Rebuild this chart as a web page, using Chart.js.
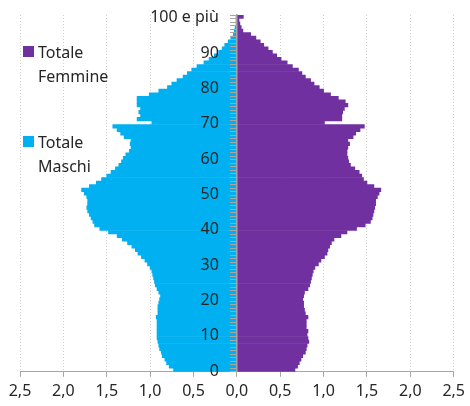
<!DOCTYPE html>
<html>
<head>
<meta charset="utf-8">
<script src="https://cdn.jsdelivr.net/npm/chart.js@4.4.0/dist/chart.umd.min.js"></script>
<style>
  body { margin: 0; background: #fff; }
  #wrap { position: relative; width: 470px; height: 406px; }
  .leg { position: absolute; left: 23px; font-family: "Noto Sans", sans-serif; font-size: 16px; line-height: 24px; color: #262626; }
  .leg span.box { position: absolute; left: 0; top: 6px; width: 11px; height: 11px; }
  .leg div { padding-left: 15px; }
</style>
</head>
<body>
<div id="wrap">
  <canvas id="pyramid" width="470" height="406"></canvas>
  <div class="leg" style="top:40px"><span class="box" style="background:#7030A0"></span><div>Totale<br>Femmine</div></div>
  <div class="leg" style="top:130px"><span class="box" style="background:#00B0F0"></span><div>Totale<br>Maschi</div></div>
</div>
<script>
// Eta (0 ... 100 e più)
const ages = [];
for (let a = 0; a <= 100; a++) ages.push(a === 100 ? "100 e più" : String(a));

// Percent of population, males (drawn to the left)
const maschi = [
  0.73, 0.78, 0.81, 0.83, 0.86, 0.87, 0.89, 0.90, 0.91, 0.92,
  0.92, 0.92, 0.92, 0.92, 0.92, 0.93, 0.91, 0.91, 0.91, 0.90,
  0.89, 0.88, 0.90, 0.92, 0.94, 0.95, 0.96, 0.97, 0.98, 1.00,
  1.03, 1.06, 1.10, 1.14, 1.17, 1.21, 1.26, 1.32, 1.38, 1.48,
  1.58, 1.64, 1.66, 1.68, 1.70, 1.72, 1.73, 1.72, 1.72, 1.73,
  1.76, 1.79, 1.70, 1.62, 1.56, 1.50, 1.45, 1.40, 1.36, 1.33,
  1.31, 1.28, 1.24, 1.22, 1.23, 1.22, 1.30, 1.34, 1.38, 1.43,
  0.98, 1.15, 1.11, 1.13, 1.11, 1.15, 1.15, 1.15, 1.01, 0.90,
  0.80, 0.75, 0.69, 0.62, 0.57, 0.52, 0.46, 0.38, 0.32, 0.26,
  0.21, 0.17, 0.14, 0.10, 0.07, 0.04, 0.03, 0.02, 0.01, 0.01,
  0.01
];

// Percent of population, females (drawn to the right)
const femmine = [
  0.67, 0.70, 0.72, 0.74, 0.76, 0.79, 0.80, 0.81, 0.83, 0.82,
  0.81, 0.82, 0.80, 0.80, 0.80, 0.82, 0.79, 0.78, 0.77, 0.77,
  0.76, 0.77, 0.78, 0.82, 0.84, 0.85, 0.86, 0.87, 0.88, 0.90,
  0.94, 0.97, 1.01, 1.04, 1.05, 1.07, 1.09, 1.12, 1.20, 1.27,
  1.38, 1.48, 1.54, 1.56, 1.57, 1.58, 1.59, 1.60, 1.60, 1.62,
  1.64, 1.66, 1.58, 1.50, 1.46, 1.44, 1.41, 1.36, 1.31, 1.29,
  1.28, 1.27, 1.27, 1.28, 1.30, 1.28, 1.34, 1.37, 1.42, 1.47,
  1.01, 1.21, 1.21, 1.22, 1.24, 1.28, 1.25, 1.17, 1.08, 1.00,
  0.95, 0.89, 0.85, 0.79, 0.75, 0.71, 0.64, 0.58, 0.51, 0.46,
  0.41, 0.36, 0.31, 0.27, 0.22, 0.16, 0.07, 0.05, 0.035, 0.025,
  0.075
];

const xTicks = [-2.5, -2, -1.5, -1, -0.5, 0, 0.5, 1, 1.5, 2, 2.5];

const axisGrey = "#a6a6a6";
const textCol = "#262626";
const fontFam = '"Noto Sans", sans-serif';

// age labels sit left of the centre axis, on top of the bars
const ageLabels = {
  id: "ageLabels",
  afterDatasetsDraw(chart) {
    const ctx = chart.ctx;
    const ys = chart.scales.y;
    const x0 = chart.scales.x.getPixelForValue(0) - 18;
    ctx.save();
    ctx.font = "16px " + fontFam;
    ctx.fillStyle = textCol;
    ctx.textAlign = "right";
    ctx.textBaseline = "middle";
    ages.forEach((lab, i) => {
      if (i % 10 === 0) ctx.fillText(lab, x0, ys.getPixelForValue(i) + 1);
    });
    ctx.restore();
  }
};

new Chart(document.getElementById("pyramid"), {
  type: "bar",
  data: {
    labels: ages,
    datasets: [
      {
        label: "Totale Maschi",
        data: maschi.map(v => -v),
        backgroundColor: "#00B0F0",
        barPercentage: 1,
        categoryPercentage: 1
      },
      {
        label: "Totale Femmine",
        data: femmine,
        backgroundColor: "#7030A0",
        barPercentage: 1,
        categoryPercentage: 1
      }
    ]
  },
  options: {
    indexAxis: "y",
    responsive: false,
    animation: false,
    layout: { padding: { left: 20, right: 13, top: 15, bottom: 0 } },
    plugins: {
      legend: { display: false },
      tooltip: { enabled: false }
    },
    scales: {
      x: {
        stacked: true,
        min: xTicks[0],
        max: xTicks[xTicks.length - 1],
        afterBuildTicks: (scale) => { scale.ticks = xTicks.map(v => ({ value: v })); },
        grid: {
          color: "#cfcfcf",
          drawTicks: true,
          tickLength: 5,
          tickColor: axisGrey,
          tickBorderDash: []
        },
        border: { color: axisGrey, width: 1, dash: [1, 2] },
        ticks: {
          padding: 5,
          color: textCol,
          font: { family: fontFam, size: 16 },
          callback: (v) => Math.abs(v).toFixed(1).replace(".", ",")
        }
      },
      y: {
        stacked: true,
        reverse: true,
        position: { x: 0 },
        grid: {
          drawOnChartArea: false,
          drawTicks: true,
          tickLength: 6,
          tickColor: axisGrey,
          z: 1
        },
        border: { color: axisGrey, width: 1.5, z: 1 },
        ticks: { display: false, autoSkip: false }
      }
    }
  },
  plugins: [ageLabels]
});
</script>
</body>
</html>
